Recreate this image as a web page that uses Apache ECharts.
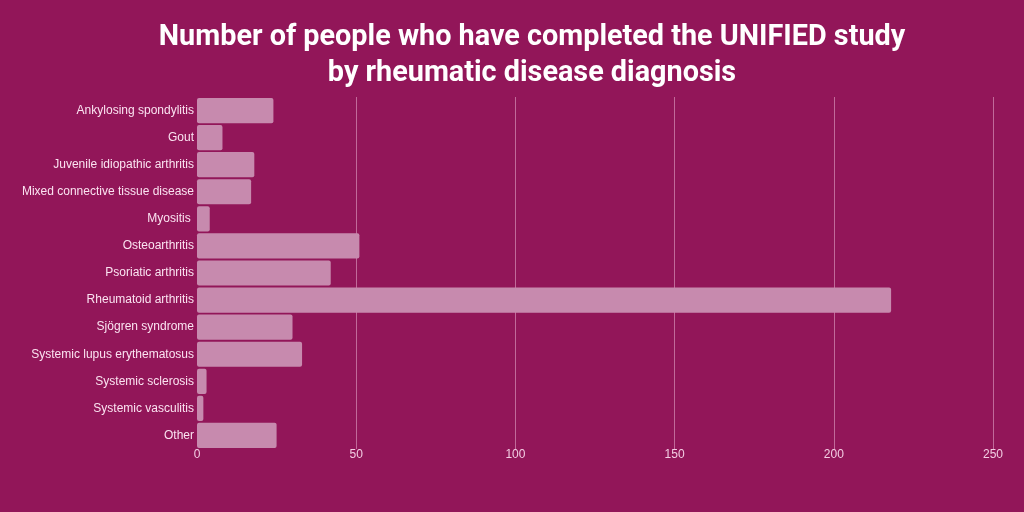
<!DOCTYPE html>
<html>
<head>
<meta charset="utf-8">
<script src="https://cdn.jsdelivr.net/npm/echarts@6/dist/echarts.min.js"></script>
<style>
  html, body { margin: 0; padding: 0; background: #921659; }
  #chart { width: 1024px; height: 512px; }
</style>
</head>
<body>
<div id="chart"></div>
<script>
const diagnoses = [
  'Ankylosing spondylitis', 'Gout', 'Juvenile idiopathic arthritis',
  'Mixed connective tissue disease', 'Myositis ', 'Osteoarthritis',
  'Psoriatic arthritis', 'Rheumatoid arthritis', 'Sjögren syndrome',
  'Systemic lupus erythematosus', 'Systemic sclerosis', 'Systemic vasculitis', 'Other'
];
const completed = [24, 8, 18, 17, 4, 51, 42, 218, 30, 33, 3, 2, 25];
const xTicks = [0, 50, 100, 150, 200, 250];

const chart = echarts.init(document.getElementById('chart'));

chart.setOption({
  backgroundColor: '#921659',
  animation: false,
  title: {
    text: 'Number of people who have completed the UNIFIED study\nby rheumatic disease diagnosis',
    left: 527,
    textAlign: 'center',
    top: 15,
    textStyle: {
      color: '#ffffff',
      fontFamily: 'Roboto',
      fontWeight: 'bold',
      fontSize: 28.8,
      lineHeight: 36
    }
  },
  grid: { left: 197, right: 31, top: 97, bottom: 63 },
  xAxis: {
    type: 'value',
    min: xTicks[0],
    max: xTicks[xTicks.length - 1],
    interval: 50,
    axisLine: { show: false },
    axisTick: { show: false },
    axisLabel: { color: '#f3cde3', fontFamily: 'Liberation Sans', fontSize: 12, margin: 0 },
    splitLine: { show: true, showMinLine: false, lineStyle: { color: 'rgba(240,190,220,0.5)', width: 1 } }
  },
  yAxis: {
    type: 'category',
    data: diagnoses,
    inverse: true,
    axisLine: { show: false },
    axisTick: { show: false },
    axisLabel: { color: '#fbe3f1', fontFamily: 'Liberation Sans', fontSize: 12, margin: 3 }
  },
  series: [{
    type: 'bar',
    data: completed,
    barCategoryGap: '7%',
    itemStyle: { color: '#c78aae', borderRadius: 2 }
  }]
});
</script>
</body>
</html>
